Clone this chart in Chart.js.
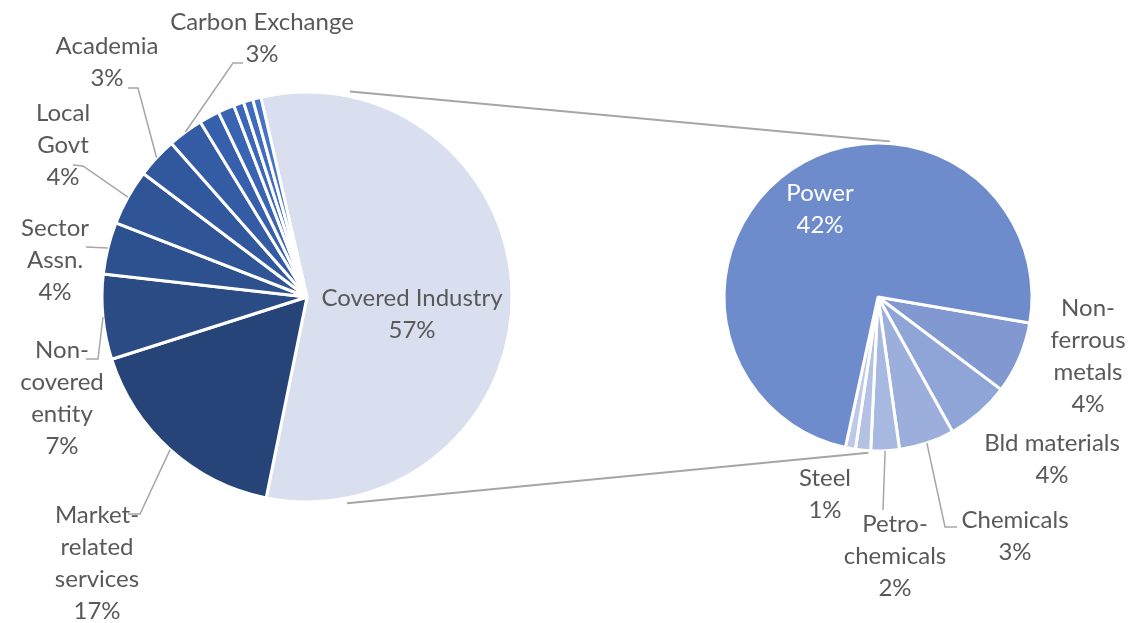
<!DOCTYPE html>
<html lang="en">
<head>
<meta charset="UTF-8">
<title>Pie of pie</title>
<script src="https://cdn.jsdelivr.net/npm/chart.js"></script>
<style>
  html, body { margin: 0; padding: 0; background: #fff; }
  #wrap { position: relative; width: 1132px; height: 623px; }
  #wrap canvas { position: absolute; left: 0; top: 0; }
</style>
</head>
<body>
<div id="wrap">
  <canvas id="mainPie" width="1132" height="623"></canvas>
  <canvas id="subPie" width="1132" height="623"></canvas>
</div>

<script>
// main pie, clockwise from the covered slice (small unlabelled slices at the end)
const mainLabels = ['Covered Industry', 'Market-related services', 'Non-covered entity', 'Sector Assn.',
    'Local Govt', 'Academia', 'Carbon Exchange', 'Other 1', 'Other 2', 'Other 3', 'Other 4', 'Other 5'];
const mainValues = [56.8, 16.9, 6.7, 4.1, 4.4, 3.2, 2.8, 1.6, 1.3, 0.8, 0.75, 0.65];
const mainColors = ['#DADFEF', '#264478', '#2A4B84', '#2D508E', '#2F5597', '#31589D', '#335CA5',
    '#365FAC', '#3963B3', '#3C67B9', '#406BBF', '#4472C4'];

// secondary pie: breakdown of Covered Industry
const subLabels = ['Non-ferrous metals', 'Bld materials', 'Chemicals', 'Petro-chemicals', 'Steel', 'Other', 'Power'];
const subValues = [4.3, 3.8, 3.3, 1.7, 0.9, 0.6, 42.2];
const subColors = ['#8198D1', '#8FA4D7', '#9CAFDC', '#A8B9E1', '#B3C1E5', '#BEC9E9', '#6E8BCB'];

const FONT = '24px Lato';
const TEXT = '#595959';
const LINE = '#A6A6A6';

// label placement: text lines (percent added from data), centre x, first line y, leader elbow points
const mainLayout = [
    { index: 0, lines: ['Covered Industry'], x: 412, y: 298 },
    { index: 1, lines: ['Market-', 'related', 'services'], x: 97, y: 515, leader: [[128, 514], [140, 514]] },
    { index: 2, lines: ['Non-', 'covered', 'entity'], x: 62, y: 350, leader: [[86, 359], [98, 359]] },
    { index: 3, lines: ['Sector', 'Assn.'], x: 55, y: 228, leader: [[86, 247]] },
    { index: 4, lines: ['Local', 'Govt'], x: 63, y: 113, leader: [[73, 165], [83, 166]] },
    { index: 5, lines: ['Academia'], x: 107, y: 46, leader: [[128, 88], [138, 88]] },
    { index: 6, lines: ['Carbon Exchange'], x: 262, y: 22, leader: [[243, 63], [233, 63]] }
];
const subLayout = [
    { index: 6, lines: ['Power'], x: 820, y: 193, color: '#FFFFFF' },
    { index: 0, lines: ['Non-', 'ferrous', 'metals'], x: 1088, y: 308 },
    { index: 1, lines: ['Bld materials'], x: 1052, y: 443 },
    { index: 2, lines: ['Chemicals'], x: 1015, y: 520, leader: [[957, 527], [945, 527]] },
    { index: 3, lines: ['Petro-', 'chemicals'], x: 895, y: 524, leader: [[883, 510]] },
    { index: 4, lines: ['Steel'], x: 825, y: 478 }
];

function makeLabelPlugin(id, layout) {
    return {
        id: id,
        afterDatasetsDraw(chart) {
            const ctx = chart.ctx;
            const meta = chart.getDatasetMeta(0);
            const data = chart.data.datasets[0].data;
            ctx.save();
            layout.forEach(item => {
                const arc = meta.data[item.index];
                const p = arc.getProps(['x', 'y', 'startAngle', 'endAngle', 'outerRadius'], true);
                const mid = (p.startAngle + p.endAngle) / 2;
                if (item.leader) {
                    ctx.beginPath();
                    ctx.strokeStyle = LINE;
                    ctx.lineWidth = 1.5;
                    ctx.moveTo(item.leader[0][0], item.leader[0][1]);
                    item.leader.slice(1).forEach(pt => ctx.lineTo(pt[0], pt[1]));
                    ctx.lineTo(p.x + Math.cos(mid) * p.outerRadius, p.y + Math.sin(mid) * p.outerRadius);
                    ctx.stroke();
                }
                const lines = item.lines.concat(Math.round(data[item.index]) + '%');
                ctx.fillStyle = item.color || TEXT;
                ctx.font = FONT;
                ctx.textAlign = 'center';
                ctx.textBaseline = 'middle';
                lines.forEach((t, k) => ctx.fillText(t, item.x, item.y + k * 32));
            });
            ctx.restore();
        }
    };
}

function pieOptions(rotation, radius, padding) {
    return {
        responsive: false,
        animation: false,
        events: [],
        rotation: rotation,
        radius: radius,
        layout: { padding: padding },
        plugins: { legend: { display: false }, tooltip: { enabled: false } }
    };
}

const mainChart = new Chart(document.getElementById('mainPie'), {
    type: 'pie',
    data: {
        labels: mainLabels,
        datasets: [{ data: mainValues, backgroundColor: mainColors, borderColor: '#FFFFFF', borderWidth: 3, hoverOffset: 0 }]
    },
    options: pieOptions(-13, 205, { left: 97, right: 615, top: 87, bottom: 116 }),
    plugins: [makeLabelPlugin('mainLabels', mainLayout)]
});

// series lines joining the covered slice to the secondary pie
const connectorPlugin = {
    id: 'connectors',
    beforeDatasetsDraw(chart) {
        const a = mainChart.getDatasetMeta(0).data[0];
        const b = chart.getDatasetMeta(0).data[0];
        const pa = a.getProps(['x', 'y', 'outerRadius'], true);
        const pb = b.getProps(['x', 'y', 'outerRadius'], true);
        const pt = (p, deg, extra) => {
            const r = (deg - 90) * Math.PI / 180;
            return [p.x + Math.cos(r) * (p.outerRadius + extra), p.y + Math.sin(r) * (p.outerRadius + extra)];
        };
        const ctx = chart.ctx;
        ctx.save();
        ctx.strokeStyle = LINE;
        ctx.lineWidth = 2;
        [[11.8, 4.4], [169, 183.5]].forEach(([d1, d2]) => {
            const s = pt(pa, d1, 5), e = pt(pb, d2, 2);
            ctx.beginPath();
            ctx.moveTo(s[0], s[1]);
            ctx.lineTo(e[0], e[1]);
            ctx.stroke();
        });
        ctx.restore();
    }
};

const subChart = new Chart(document.getElementById('subPie'), {
    type: 'pie',
    data: {
        labels: subLabels,
        datasets: [{ data: subValues, backgroundColor: subColors, borderColor: '#FFFFFF', borderWidth: 3, hoverOffset: 0 }]
    },
    options: pieOptions(99.7, 154, { left: 718, right: 94, top: 137, bottom: 166 }),
    plugins: [connectorPlugin, makeLabelPlugin('subLabels', subLayout)]
});
</script>
</body>
</html>
